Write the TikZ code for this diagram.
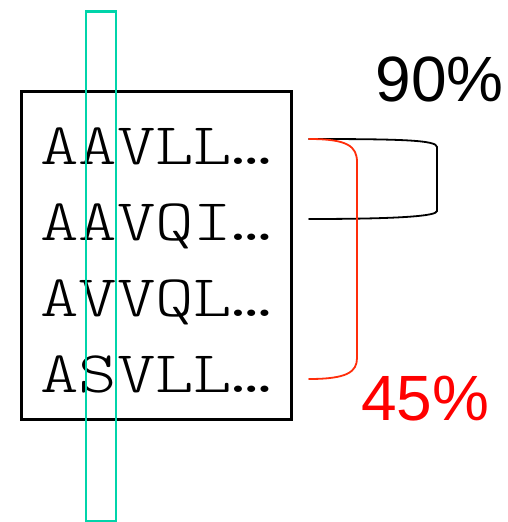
\documentclass[tikz,border=0pt]{standalone}
\usepackage{fontspec}
\usepackage{graphicx}
\usepackage{tikz}
\usetikzlibrary{positioning}
\newfontfamily\labelfont{Liberation Sans}
\newfontfamily\seqfont{Latin Modern Mono Light}
\definecolor{colteal}{RGB}{0,212,170}
\definecolor{bracketred}{RGB}{255,45,10}

\begin{document}
\begin{tikzpicture}[x=1pt, y=-1pt]
% STYLES
\tikzset{
    seqline/.style={anchor=base west, inner sep=0pt,
    font=\fontsize{59}{59}\selectfont\seqfont},
    seqbox/.style={draw, line width=3.2pt, minimum width=270pt,
    minimum height=328pt, inner sep=0pt},
    pct/.style={anchor=base west, inner sep=0pt,
    font=\fontsize{64}{64}\selectfont\labelfont},
    bracket/.style={line width=1.8pt, line cap=round}
}
\useasboundingbox (0,0) rectangle (508,522);
\node [seqbox] (Box) at (156.5,255.5) {};
\foreach \seq [count=\i] in {AAVLL,AAVQI,AVVQL,ASVLL}
  \node [seqline] (Seq\i) at (40,{164+76.3*(\i-1)}) {\scalebox{1.24}[1]{\seq…}};

% column highlight
\draw [colteal, line width=2.5pt] (86,11.5) rectangle (116,521.5);

% bracket ends
\coordinate (End1) at (309,139);
\coordinate (End2) at (309,219);
\coordinate (End4) at (309,379);

\node [pct] (High) at (375.5,101) {90\%};
\node [pct, text=red] (Low) at (361,420) {45\%};

% Draw the brackets
\draw [bracket] (End1) .. controls (400,139) and (437,140) .. (437,147)
   -- (437,211) .. controls (437,216) and (400,219) .. (End2);
\draw [bracket, bracketred] (End1) .. controls (347,139) and (357,146) .. (357,162)
   -- (357,358) .. controls (357,372) and (347,379) .. (End4);
\end{tikzpicture}
\end{document}
